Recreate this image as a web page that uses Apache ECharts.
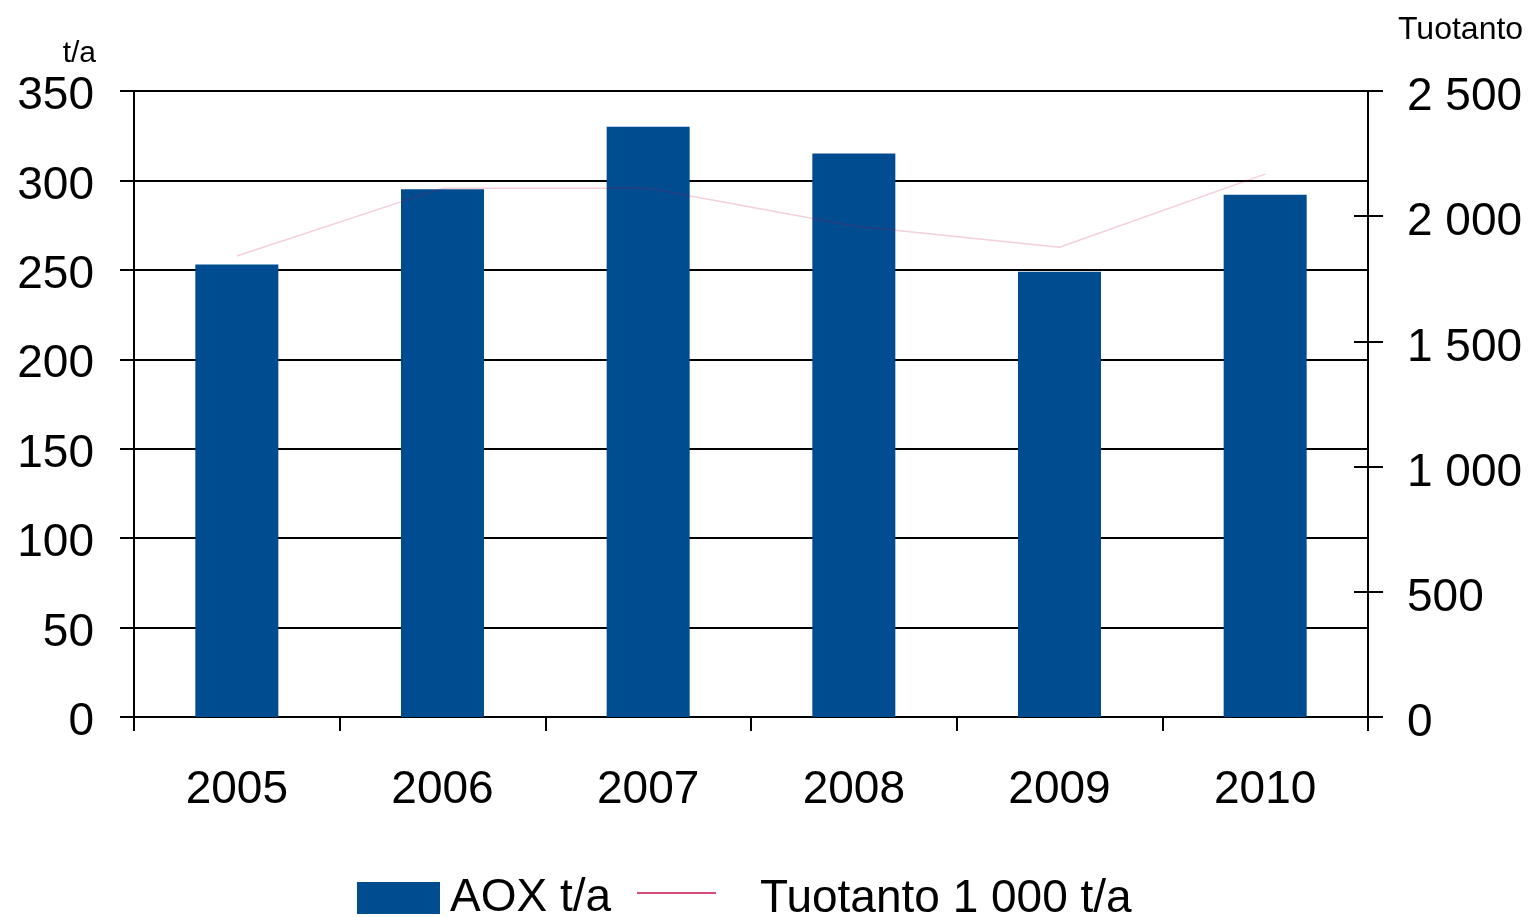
<!DOCTYPE html>
<html>
<head>
<meta charset="utf-8">
<script src="https://cdn.jsdelivr.net/npm/echarts@6/dist/echarts.min.js"></script>
<style>html,body{margin:0;padding:0;background:#fff}#c{width:1528px;height:917px}</style>
</head>
<body>
<div id="c"></div>
<script>
const years = ['2005', '2006', '2007', '2008', '2009', '2010'];
const aox = [253, 295, 330, 315, 249, 292];
const tuotanto = [1841, 2112, 2112, 1961, 1876, 2168];
const leftTicks = [0, 350, 50];
const rightTicks = [0, 2500, 500];

const FONT = 'Liberation Sans, Arial, sans-serif';
const chart = echarts.init(document.getElementById('c'), null, {renderer: 'canvas'});
const fmtSpace = v => String(v).replace(/\B(?=(\d{3})+(?!\d))/g, ' ');
const axLine = {show: true, lineStyle: {color: '#000', width: 2}};
const labStyle = {fontSize: 46, fontFamily: FONT, color: '#000'};
chart.setOption({
  animation: false,
  backgroundColor: '#fff',
  grid: {left: 134, right: 160, top: 91, bottom: 200, containLabel: false},
  legend: [{
    left: 357, top: 875, padding: 0, itemWidth: 83, itemHeight: 32, itemGap: 0,
    textStyle: {fontSize: 46, fontFamily: FONT, color: '#000', padding: [0, 0, 0, 5]},
    data: [{name: 'AOX t/a', icon: 'rect'}]
  }, {
    left: 637, top: 876, padding: 0, itemWidth: 79, itemHeight: 32, itemGap: 0,
    formatter: n => '{t|' + n + '}',
    textStyle: {fontSize: 46, fontFamily: FONT, color: '#000', padding: [0, 0, 0, 39],
      rich: {t: {fontSize: 46, fontFamily: FONT, color: '#000', padding: [12, 0, 0, 0]}}},
    data: [{name: 'Tuotanto 1 000 t/a', icon: 'path://M0,0 L100,0 L100,1.8 L0,1.8 Z', itemStyle: {color: '#c8104e', opacity: 1}}]
  }],
  xAxis: {
    type: 'category', data: years, boundaryGap: true,
    axisLine: axLine,
    axisTick: {show: true, length: 14, alignWithLabel: false, lineStyle: {color: '#000', width: 2}},
    axisLabel: {fontSize: 46, fontFamily: FONT, color: '#000', margin: 50},
    splitLine: {show: false}
  },
  yAxis: [{
    type: 'value', position: 'left', min: leftTicks[0], max: leftTicks[1], interval: leftTicks[2],
    name: 't/a', nameLocation: 'end', nameGap: 22,
    nameTextStyle: {fontSize: 30, fontFamily: FONT, color: '#000', align: 'right', padding: [0, 38, 0, 0]},
    axisLine: axLine,
    axisTick: {show: true, length: 14, lineStyle: {color: '#000', width: 2}},
    axisLabel: {margin: 40, formatter: v => '{v|' + v + '}',
      rich: {v: Object.assign({padding: [11, 0, 0, 0]}, labStyle)}},
    splitLine: {show: true, lineStyle: {color: '#000', width: 2}}
  }, {
    type: 'value', position: 'right', min: rightTicks[0], max: rightTicks[1], interval: rightTicks[2],
    name: 'Tuotanto', nameLocation: 'end', nameGap: 45,
    nameTextStyle: {fontSize: 32, fontFamily: FONT, color: '#000', align: 'left', padding: [0, 0, 0, 30]},
    axisLine: axLine,
    axisTick: {show: true, length: 15, lineStyle: {color: '#000', width: 2}},
    axisLabel: {margin: 39, formatter: v => '{v|' + fmtSpace(v) + '}',
      rich: {v: Object.assign({padding: [13, 0, 0, 0]}, labStyle)}},
    splitLine: {show: false}
  }, {
    type: 'value', position: 'right', min: rightTicks[0], max: rightTicks[1], interval: rightTicks[2],
    axisLine: {show: false},
    axisTick: {show: true, inside: true, length: 14, lineStyle: {color: '#000', width: 2}},
    axisLabel: {show: false},
    splitLine: {show: false}
  }],
  series: [{
    name: 'AOX t/a', type: 'bar', data: aox, yAxisIndex: 0, barWidth: 83,
    itemStyle: {color: '#004c90'}
  }, {
    name: 'Tuotanto 1 000 t/a', type: 'line', data: tuotanto, yAxisIndex: 1,
    symbol: 'none', showSymbol: false, z: 5,
    lineStyle: {color: '#c8104e', width: 1.5, opacity: 0.2},
    itemStyle: {color: '#c8104e'}
  }]
});
</script>
</body>
</html>
